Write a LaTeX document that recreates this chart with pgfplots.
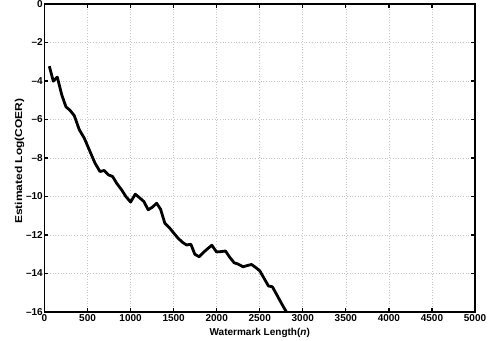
\documentclass[border=0pt]{standalone}
\usepackage{pgfplots}
\pgfplotsset{compat=1.18}
\usepackage{graphicx}
\usepackage{fontspec}
\setmainfont{Liberation Sans}

% estimated log(COER) against watermark length
\pgfplotstableread{
n     logcoer
56    -3.23
102   -4.01
149   -3.80
199   -4.70
249   -5.34
296   -5.52
346   -5.80
404   -6.53
462   -6.97
508   -7.45
586   -8.26
644   -8.70
694   -8.65
740   -8.87
791   -8.96
838   -9.31
895   -9.65
945   -10.00
1000  -10.29
1054  -9.88
1108  -10.08
1154  -10.26
1204  -10.69
1255  -10.55
1302  -10.35
1348  -10.66
1398  -11.39
1456  -11.65
1503  -11.91
1552  -12.17
1603  -12.38
1650  -12.52
1700  -12.48
1746  -13.00
1796  -13.13
1842  -12.92
1893  -12.72
1943  -12.53
1998  -12.88
2056  -12.86
2102  -12.83
2152  -13.16
2202  -13.44
2248  -13.51
2306  -13.65
2353  -13.59
2404  -13.53
2454  -13.69
2500  -13.86
2550  -14.25
2601  -14.65
2647  -14.69
2701  -15.13
2752  -15.55
2810  -16.00
}\coerdata

\begin{document}
\begin{tikzpicture}
\path[use as bounding box] (-44.5pt,-28pt) rectangle (444.5pt,312pt);
\begin{axis}[
  at={(0pt,0pt)}, anchor=south west,
  scale only axis,
  width=430.5pt, height=308pt,
  xmin=0, xmax=5000, ymin=-16, ymax=0,
  xtick={0,500,...,5000},
  ytick={-16,-14,...,0},
  yticklabels={{--16},{--14},{--12},{--10},{--8},{--6},{--4},{--2},{0}},
  tick align=inside,
  major tick length=4pt,
  axis line style={line width=1.6pt},
  every tick/.style={black, line width=1.2pt},
  grid=major,
  major grid style={gray!45, line width=0.7pt, dotted},
  /pgf/number format/assume math mode=true,
  /pgf/number format/1000 sep={},
  ticklabel style={font=\fontsize{10}{11}\selectfont\bfseries},
  xticklabel style={inner sep=1pt, yshift=-1pt},
  yticklabel style={inner sep=1pt, xshift=-0.5pt},
  xlabel={Watermark Length(\textit{n})},
  ylabel={\scalebox{1.2}[1]{Estimated Log(COER)}},
  label style={font=\fontsize{10}{11}\selectfont\bfseries},
  xlabel style={at={(axis description cs:0.5,0)}, anchor=base, yshift=-23pt},
  ylabel style={at={(axis description cs:-0.058,0.49)}, anchor=center},
  clip=true,
]
\addplot[black, line width=2.8pt, line join=round] table[x=n, y=logcoer] {\coerdata};
\end{axis}
\end{tikzpicture}
\end{document}
